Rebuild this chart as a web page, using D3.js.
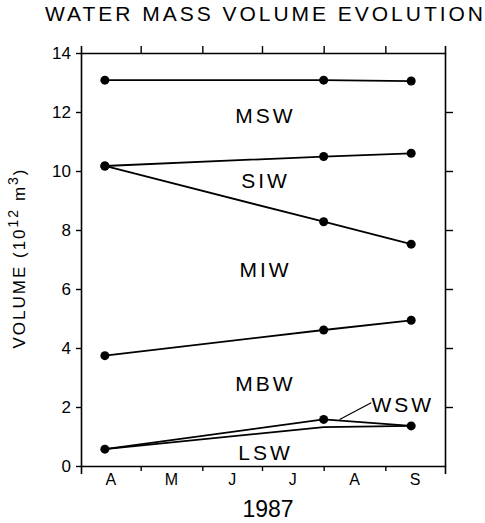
<!DOCTYPE html>
<html>
<head>
<meta charset="utf-8">
<script src="https://cdn.jsdelivr.net/npm/d3@7"></script>
<style>
  html, body { margin: 0; padding: 0; background: #fff; }
  svg { display: block; font-family: "Liberation Sans", Arial, sans-serif; }
</style>
</head>
<body>
<svg id="chart" width="485" height="523"></svg>
<script>
// ---- data ----
const title = "WATER MASS VOLUME EVOLUTION";
const xTitle = "1987";
const sampleDates = ["1987-04-13", "1987-08-01", "1987-09-14"];
const monthLabels = ["A", "M", "J", "J", "A", "S"];
const yTicks = [0, 2, 4, 6, 8, 10, 12, 14];

// upper boundaries of each water-mass layer (10^12 m^3)
const mswTop = [13.08, 13.08, 13.05];
const siwTop = [10.17, 10.49, 10.60];
const miwTop = [10.17, 8.28, 7.52];
const mbwTop = [3.74, 4.61, 4.94];
const wswTop = [0.57, 1.58, 1.36];
const lswTop = [0.57, 1.32, 1.36];

const layerNames = ["MSW", "SIW", "MIW", "MBW", "WSW", "LSW"];
const layerLabelDates = ["1987-07-02", "1987-07-02", "1987-07-02", "1987-07-02", "1987-09-09", "1987-07-02"];
const layerLabelValues = [11.63, 9.42, 6.41, 2.54, 1.84, 0.2];

// ---- layout ----
const svg = d3.select("#chart");
const parse = d3.timeParse("%Y-%m-%d");
const dates = sampleDates.map(parse);

const x = d3.scaleTime()
  .domain([new Date(1987, 3, 1), new Date(1987, 9, 1)])
  .range([81, 445]);
const y = d3.scaleLinear().domain([0, 14]).range([466, 53]);

// title
svg.append("text")
  .attr("x", 45).attr("y", 21)
  .attr("textLength", 438).attr("lengthAdjust", "spacing")
  .attr("font-size", 21)
  .attr("fill", "#000")
  .text(title);

// axes
const monthTicks = d3.timeMonth.range(new Date(1987, 3, 1), new Date(1987, 9, 2));

const gB = svg.append("g").attr("transform", `translate(0,${y(0)})`)
  .call(d3.axisBottom(x).tickValues(monthTicks.slice(1, -1)).tickSize(5).tickSizeOuter(8).tickFormat(""));
const gT = svg.append("g").attr("transform", `translate(0,${y(14)})`)
  .call(d3.axisTop(x).tickValues(monthTicks.slice(1, -1)).tickSize(7).tickSizeOuter(7).tickFormat(""));
const gL = svg.append("g").attr("transform", `translate(${x.range()[0]},0)`)
  .call(d3.axisLeft(y).tickValues(yTicks).tickSize(5).tickSizeOuter(0).tickPadding(5).tickFormat(d3.format("d")));
const gR = svg.append("g").attr("transform", `translate(${x.range()[1]},0)`)
  .call(d3.axisRight(y).tickValues(yTicks.slice(1, -1)).tickSize(8).tickSizeOuter(0).tickFormat(""));

[gB, gT, gL, gR].forEach(g => {
  g.selectAll("path.domain").attr("stroke", "#000").attr("stroke-width", 1.6);
  g.selectAll(".tick line").attr("stroke", "#000").attr("stroke-width", 1.4);
});
gL.selectAll(".tick text")
  .attr("font-size", 17).attr("font-family", "Liberation Sans, Arial, sans-serif")
  .attr("fill", "#000");

// month labels (centred in each month)
svg.append("g").selectAll("text")
  .data(monthLabels)
  .join("text")
  .attr("x", (d, i) => (x(monthTicks[i]) + x(monthTicks[i + 1])) / 2)
  .attr("y", 485)
  .attr("text-anchor", "middle")
  .attr("font-size", 16)
  .text(d => d);

svg.append("text")
  .attr("x", 268).attr("y", 517)
  .attr("text-anchor", "middle")
  .attr("font-size", 23)
  .text(xTitle);

// y label
const yl = svg.append("text")
  .attr("transform", "translate(25,258) rotate(-90)")
  .attr("text-anchor", "middle")
  .attr("font-size", 17)
  .attr("letter-spacing", 2);
yl.append("tspan").text("VOLUME (10");
yl.append("tspan").attr("dy", -7).attr("font-size", 14).text("12");
yl.append("tspan").attr("dy", 7).text(" m");
yl.append("tspan").attr("dy", -7).attr("font-size", 14).text("3");
yl.append("tspan").attr("dy", 7).text(")");

// lines
const series = [
  { v: mswTop, dots: [true, true, true] },
  { v: siwTop, dots: [true, true, true] },
  { v: miwTop, dots: [true, true, true] },
  { v: mbwTop, dots: [true, true, true] },
  { v: wswTop, dots: [true, true, true] },
  { v: lswTop, dots: [false, false, false] }
];
const line = d3.line().x((d, i) => x(dates[i])).y(d => y(d));
const gLines = svg.append("g");
series.forEach(s => {
  gLines.append("path")
    .attr("d", line(s.v))
    .attr("fill", "none")
    .attr("stroke", "#000")
    .attr("stroke-width", 1.8);
});
series.forEach(s => {
  gLines.selectAll(null)
    .data(s.v.map((v, i) => ({ v, i })).filter(d => s.dots[d.i]))
    .join("circle")
    .attr("cx", d => x(dates[d.i]))
    .attr("cy", d => y(d.v))
    .attr("r", 4.5)
    .attr("fill", "#000");
});

// layer labels
const labDates = layerLabelDates.map(parse);
svg.append("g").selectAll("text")
  .data(layerNames)
  .join("text")
  .attr("x", (d, i) => x(labDates[i]) + 1.5)
  .attr("y", (d, i) => y(layerLabelValues[i]))
  .attr("text-anchor", "middle")
  .attr("font-size", 21)
  .attr("letter-spacing", 3)
  .text(d => d);

// leader line for WSW
const leaderDate = parse("1987-08-09");
const t = (leaderDate - dates[1]) / (dates[2] - dates[1]);
const leaderVal = wswTop[1] + t * (wswTop[2] - wswTop[1]);
const wswIdx = layerNames.indexOf("WSW");
svg.append("line")
  .attr("x1", x(leaderDate)).attr("y1", y(leaderVal) - 1)
  .attr("x2", x(labDates[wswIdx]) - 30).attr("y2", y(layerLabelValues[wswIdx]) - 9)
  .attr("stroke", "#000").attr("stroke-width", 1.2);
</script>
</body>
</html>
